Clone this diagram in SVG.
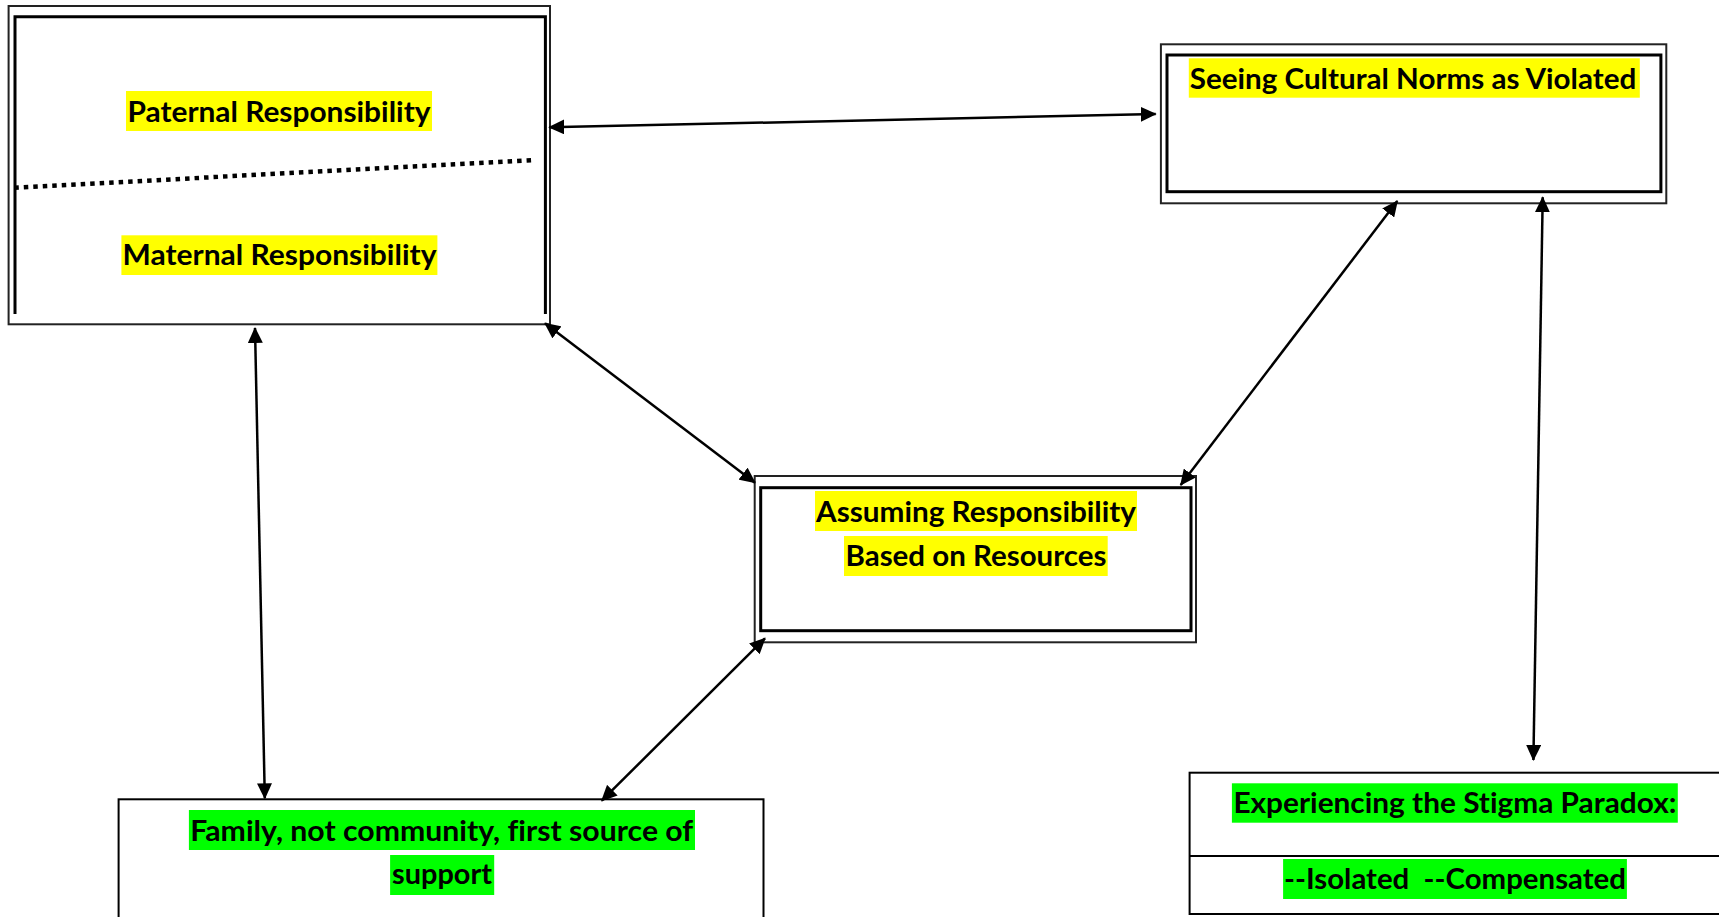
<svg xmlns="http://www.w3.org/2000/svg" width="1719" height="917" viewBox="0 0 1719 917">
<style>
.bg{fill:#fff}
.outer{fill:none;stroke:#222;stroke-width:2}
.inner{fill:none;stroke:#000;stroke-width:3}
.single{fill:#fff;stroke:#000;stroke-width:2}
.t{font-family:Lato,"Open Sans","Liberation Sans",sans-serif;font-weight:bold;font-size:28px;fill:#000;text-anchor:middle;font-variant-ligatures:none}
.hy{fill:#ffff00}
.hg{fill:#00ff00}
.conn line{stroke:#000;stroke-width:2.5;marker-start:url(#ah);marker-end:url(#ah)}
</style>
<defs>
<marker id="ah" viewBox="0 0 16 15" refX="15" refY="7.5" markerWidth="16" markerHeight="15" markerUnits="userSpaceOnUse" orient="auto-start-reverse">
<path d="M0,0 L16,7.5 L0,15 z" fill="#000"/>
</marker>
</defs>
<rect class="bg" x="0" y="0" width="1719" height="917"/>

<g id="node-responsibility">
<rect class="outer" x="8.6" y="6" width="541.4" height="318.3"/>
<path class="inner" d="M15,314 V16.7 H545.4 V314"/>
<line x1="14.3" y1="187.7" x2="535.7" y2="160" stroke="#000" stroke-width="4.5" stroke-dasharray="4.5 5"/>
<rect class="hy" x="126" y="91" width="306" height="40"/>
<text class="t" x="279" y="121.7" textLength="303" lengthAdjust="spacingAndGlyphs">Paternal Responsibility</text>
<rect class="hy" x="121.4" y="235.3" width="316" height="39.7"/>
<text class="t" x="279.5" y="265" textLength="314" lengthAdjust="spacingAndGlyphs">Maternal Responsibility</text>
</g>

<g id="node-norms">
<rect class="outer" x="1160.9" y="44.3" width="505.4" height="159"/>
<rect class="inner" x="1167" y="55" width="493.9" height="136.7"/>
<rect class="hy" x="1188.8" y="58.3" width="451" height="39.4"/>
<text class="t" x="1413" y="88.7" textLength="446.5" lengthAdjust="spacingAndGlyphs">Seeing Cultural Norms as Violated</text>
</g>

<g id="node-assuming">
<rect class="outer" x="754.7" y="476" width="441.3" height="166.3"/>
<rect class="inner" x="760.7" y="487.7" width="430.3" height="143"/>
<rect class="hy" x="815" y="491" width="322" height="40"/>
<text class="t" x="976" y="521.7" textLength="320" lengthAdjust="spacingAndGlyphs">Assuming Responsibility</text>
<rect class="hy" x="844" y="536" width="263.7" height="40"/>
<text class="t" x="976" y="566" textLength="261" lengthAdjust="spacingAndGlyphs">Based on Resources</text>
</g>

<g id="node-family">
<rect class="single" x="118.6" y="799.3" width="644.9" height="140"/>
<rect class="hg" x="188.9" y="810" width="506.1" height="40"/>
<text class="t" x="441.7" y="841" textLength="503" lengthAdjust="spacingAndGlyphs">Family, not community, first source of</text>
<rect class="hg" x="390.1" y="855" width="104.1" height="40"/>
<text class="t" x="442" y="884.3" textLength="100" lengthAdjust="spacingAndGlyphs">support</text>
</g>

<g id="node-stigma">
<rect class="single" x="1189.6" y="772.7" width="540" height="141.3"/>
<line x1="1189.6" y1="856" x2="1719" y2="856" stroke="#000" stroke-width="2"/>
<rect class="hg" x="1231.9" y="783.3" width="445.9" height="39.4"/>
<text class="t" x="1454.9" y="813.3" textLength="443" lengthAdjust="spacingAndGlyphs">Experiencing the Stigma Paradox:</text>
<rect class="hg" x="1283.1" y="859" width="343.8" height="40"/>
<text class="t" x="1455" y="889.3" textLength="342" lengthAdjust="spacingAndGlyphs" xml:space="preserve">--Isolated  --Compensated</text>
</g>

<g id="connectors" class="conn">
<line x1="549.2" y1="127.3" x2="1155.7" y2="114"/>
<line x1="545" y1="323.3" x2="755" y2="482.7"/>
<line x1="1397.3" y1="201" x2="1180.7" y2="485"/>
<line x1="1542.7" y1="197.3" x2="1533.4" y2="760"/>
<line x1="255" y1="328" x2="264.8" y2="798.3"/>
<line x1="765" y1="638.3" x2="601.7" y2="800.7"/>
</g>
</svg>
